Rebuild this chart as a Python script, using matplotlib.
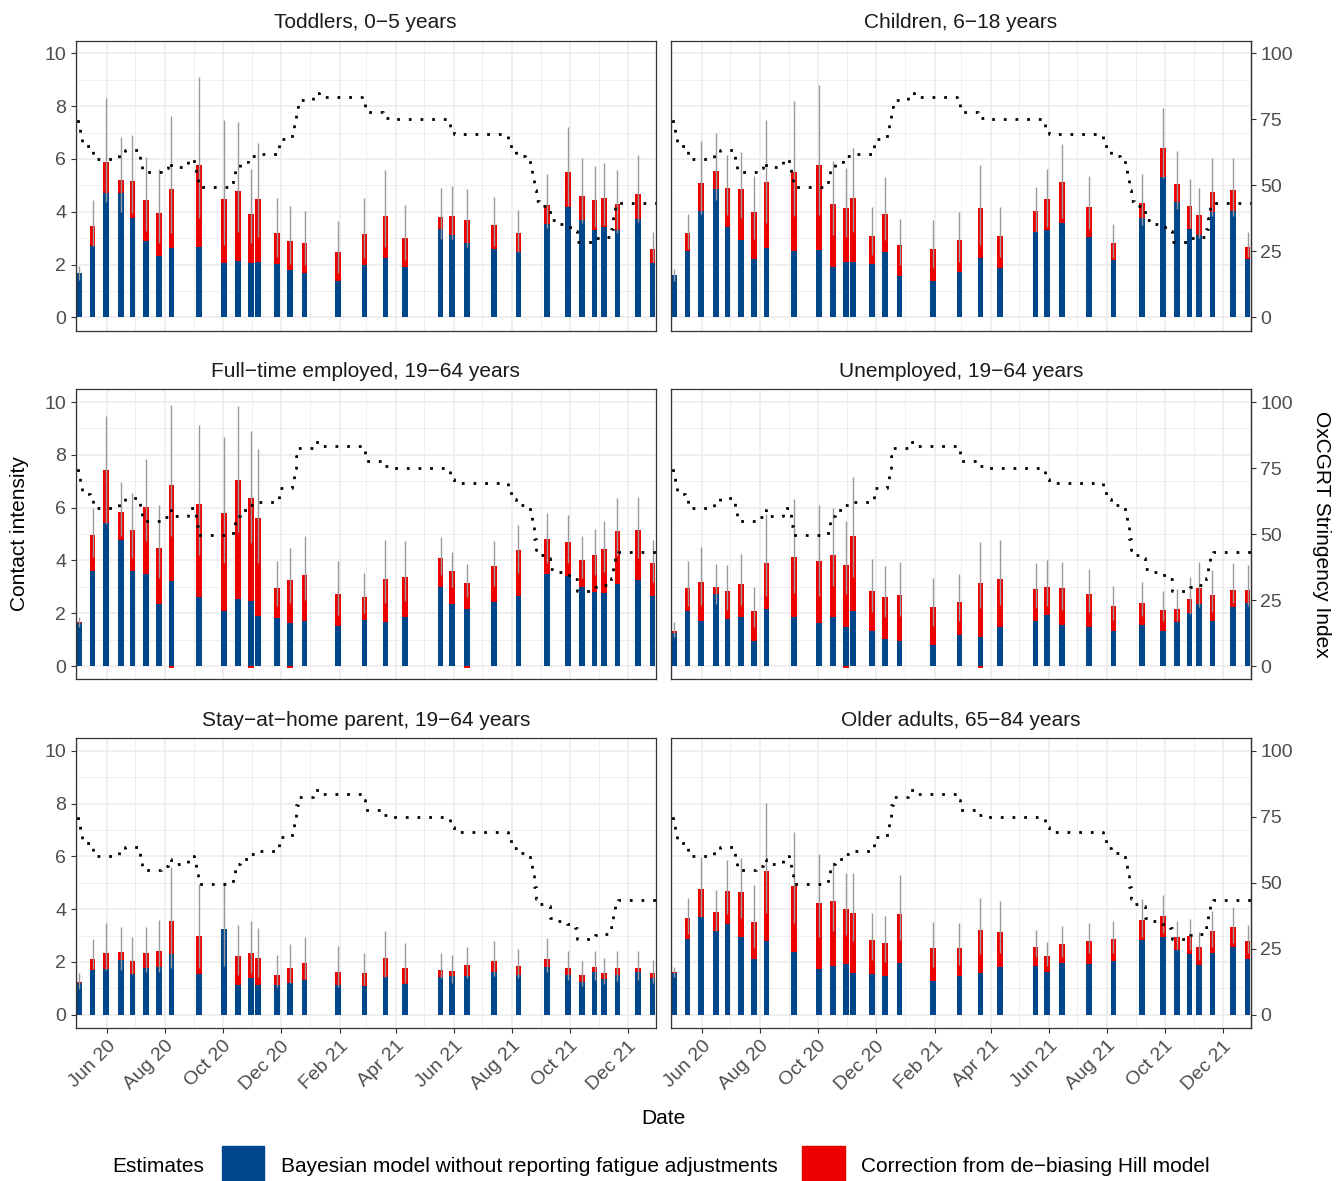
import matplotlib
matplotlib.use("Agg")
import matplotlib.pyplot as plt
import matplotlib.dates as mdates
from matplotlib.patches import Rectangle
import numpy as np

plt.rcParams['font.family'] = ['Liberation Sans', 'DejaVu Sans']

# survey waves (same for all groups)
waves = ["2020-05-03", "2020-05-17", "2020-05-31", "2020-06-16", "2020-06-28", "2020-07-12",
         "2020-07-26", "2020-08-08", "2020-09-06", "2020-10-02", "2020-10-17", "2020-10-31",
         "2020-11-07", "2020-11-27", "2020-12-11", "2020-12-26", "2021-01-30", "2021-02-27",
         "2021-03-21", "2021-04-11", "2021-05-18", "2021-05-30", "2021-06-15", "2021-07-13",
         "2021-08-08", "2021-09-07", "2021-09-29", "2021-10-14", "2021-10-27", "2021-11-06",
         "2021-11-20", "2021-12-12", "2021-12-27"]

groups = ["Toddlers, 0\u22125 years", "Children, 6\u221218 years",
          "Full\u2212time employed, 19\u221264 years", "Unemployed, 19\u221264 years",
          "Stay\u2212at\u2212home parent, 19\u221264 years", "Older adults, 65\u221284 years"]

# bayesian estimate (blue), hill-corrected total (top of red), interval
toddlers_base = [1.67, 2.70, 4.70, 4.70, 3.78, 2.90, 2.34, 2.64, 2.66, 2.06, 2.12, 2.06, 2.11, 2.02, 1.81, 1.68, 1.39,
                 1.98, 2.25, 1.89, 3.33, 3.12, 2.80, 2.59, 2.49, 3.54, 4.17, 3.69, 3.31, 3.41, 3.32, 3.71, 2.05]
toddlers_total = [1.69, 3.46, 5.88, 5.20, 5.16, 4.44, 3.95, 4.86, 5.77, 4.48, 4.79, 3.91, 4.48, 3.19, 2.89, 2.82, 2.47,
                  3.16, 3.84, 3.00, 3.79, 3.84, 3.69, 3.50, 3.19, 4.26, 5.51, 4.60, 4.44, 4.51, 4.29, 4.67, 2.59]
toddlers_lo = [1.41, 2.70, 4.38, 4.00, 3.94, 3.28, 2.80, 3.18, 3.78, 2.74, 3.24, 2.80, 3.06, 2.30, 2.01, 1.98, 1.67,
               2.26, 2.65, 2.17, 2.97, 2.97, 2.65, 2.71, 2.49, 3.37, 4.22, 3.59, 3.43, 3.50, 3.21, 3.62, 2.08]
toddlers_hi = [1.96, 4.44, 8.30, 6.82, 6.90, 6.06, 5.62, 7.63, 9.12, 7.47, 7.39, 5.62, 6.59, 4.53, 4.22, 4.02, 3.66,
               4.52, 5.58, 4.26, 4.89, 4.97, 4.85, 4.55, 4.07, 5.42, 7.21, 6.02, 5.72, 5.86, 5.58, 6.14, 3.24]

children_base = [1.59, 2.53, 4.03, 4.86, 3.42, 2.94, 2.21, 2.64, 2.51, 2.56, 1.91, 2.11, 2.11, 2.03, 2.49, 1.58, 1.38,
                 1.73, 2.26, 1.88, 3.24, 3.32, 3.57, 3.04, 2.18, 3.78, 5.32, 4.37, 3.35, 3.11, 3.99, 4.02, 2.20]
children_total = [1.62, 3.21, 5.09, 5.54, 4.90, 4.86, 3.99, 5.13, 5.51, 5.77, 4.29, 4.14, 4.52, 3.08, 3.91, 2.74, 2.59,
                  2.93, 4.14, 3.08, 4.03, 4.48, 5.13, 4.18, 2.82, 4.33, 6.41, 5.05, 4.22, 3.88, 4.75, 4.82, 2.66]
children_lo = [1.39, 2.58, 3.91, 4.43, 3.88, 3.78, 2.97, 3.59, 3.84, 3.88, 3.12, 3.06, 3.24, 2.36, 2.93, 1.98, 1.86,
               2.08, 2.74, 2.30, 3.24, 3.43, 3.75, 3.33, 2.23, 3.50, 5.29, 4.09, 3.37, 2.99, 3.85, 3.84, 2.30]
children_hi = [1.82, 3.91, 6.69, 7.00, 6.15, 6.26, 5.37, 7.47, 8.19, 8.80, 5.92, 5.67, 6.41, 4.17, 5.30, 3.71, 3.69,
               3.98, 5.76, 4.19, 4.95, 5.61, 6.57, 5.37, 3.54, 5.43, 7.92, 6.31, 5.23, 4.89, 6.02, 6.02, 3.24]

fulltime_base = [1.63, 3.60, 5.40, 4.79, 3.60, 3.50, 2.36, 3.22, 2.62, 2.09, 2.52, 2.47, 1.90, 1.83, 1.63, 1.71, 1.53,
                 1.76, 1.68, 1.86, 3.00, 2.36, 2.16, 2.44, 2.67, 3.50, 3.41, 3.00, 2.82, 2.77, 3.12, 3.27, 2.67]
fulltime_total = [1.65, 4.97, 7.43, 5.84, 5.16, 6.03, 4.48, 6.86, 6.14, 5.80, 7.05, 6.37, 5.61, 2.96, 3.26, 3.45, 2.73,
                  2.62, 3.30, 3.38, 4.10, 3.60, 3.15, 3.79, 4.40, 4.82, 4.70, 4.02, 4.22, 4.44, 5.12, 5.16, 3.91]
fulltime_lo = [1.47, 4.12, 5.39, 4.94, 4.11, 4.72, 3.32, 4.91, 4.22, 3.89, 5.07, 4.65, 3.89, 2.28, 2.40, 2.50, 1.93,
               2.02, 2.40, 2.48, 3.46, 3.01, 2.63, 3.05, 3.51, 3.89, 3.89, 3.32, 3.43, 3.58, 4.15, 4.08, 3.19]
fulltime_hi = [1.85, 5.98, 9.48, 6.97, 6.55, 7.84, 6.11, 9.90, 9.13, 8.67, 9.86, 8.91, 8.24, 3.97, 4.46, 4.93, 3.96,
               3.53, 4.77, 4.74, 4.88, 4.31, 3.87, 4.74, 5.35, 5.79, 5.71, 4.91, 5.18, 5.50, 6.38, 6.42, 4.78]

unemployed_base = [1.26, 2.10, 1.69, 2.74, 1.79, 1.84, 0.93, 2.17, 1.87, 1.62, 1.87, 1.49, 2.10, 1.31, 1.04, 0.96, 0.81,
                   1.16, 1.09, 1.46, 1.69, 1.92, 1.57, 1.46, 1.31, 1.57, 1.34, 1.67, 2.02, 2.36, 1.69, 2.22, 2.37]
unemployed_total = [1.34, 2.97, 3.19, 3.00, 2.85, 3.12, 2.10, 3.91, 4.14, 3.99, 4.22, 3.84, 4.94, 2.85, 2.63, 2.70, 2.25,
                    2.44, 3.16, 3.31, 2.93, 3.00, 2.97, 2.74, 2.29, 2.40, 2.13, 2.17, 2.55, 2.97, 2.70, 2.89, 2.89]
unemployed_lo = [1.11, 2.26, 2.32, 2.36, 2.13, 2.32, 1.48, 2.64, 2.77, 2.64, 3.02, 2.74, 3.37, 2.03, 1.84, 1.88, 1.50,
                 1.69, 2.20, 2.32, 2.20, 2.29, 2.13, 2.03, 1.73, 1.88, 1.69, 1.69, 1.98, 2.23, 2.03, 2.39, 2.26]
unemployed_hi = [1.67, 3.98, 4.51, 3.88, 3.84, 4.23, 2.99, 5.77, 6.34, 6.11, 5.98, 5.49, 7.16, 4.05, 3.80, 3.94, 3.35,
                 3.50, 4.70, 4.77, 3.89, 4.03, 3.94, 3.67, 3.02, 3.19, 2.84, 2.92, 3.37, 3.95, 3.64, 3.90, 3.84]

parent_base = [1.20, 1.70, 1.73, 2.07, 1.55, 1.78, 1.81, 2.31, 1.55, 3.24, 1.12, 1.40, 1.12, 1.12, 1.20, 1.33, 1.12,
               1.10, 1.43, 1.17, 1.43, 1.48, 1.48, 1.63, 1.50, 1.81, 1.50, 1.25, 1.63, 1.35, 1.50, 1.63, 1.40]
parent_total = [1.24, 2.11, 2.34, 2.37, 2.03, 2.34, 2.41, 3.55, 2.98, 3.25, 2.22, 2.34, 2.15, 1.50, 1.77, 1.96, 1.62,
                1.58, 2.15, 1.77, 1.69, 1.67, 1.88, 2.03, 1.84, 2.11, 1.77, 1.50, 1.81, 1.58, 1.77, 1.77, 1.58]
parent_lo = [0.98, 1.72, 1.69, 1.69, 1.53, 1.63, 1.63, 1.76, 1.76, 1.84, 1.49, 1.57, 1.41, 1.04, 1.22, 1.34, 1.04,
             1.12, 1.41, 1.19, 1.38, 1.22, 1.38, 1.48, 1.38, 1.63, 1.31, 1.09, 1.31, 1.15, 1.29, 1.31, 1.19]
parent_hi = [1.57, 2.88, 3.46, 3.33, 2.93, 3.33, 3.59, 5.61, 4.97, 5.04, 3.38, 3.55, 3.27, 2.26, 2.68, 2.94, 2.59,
             2.32, 3.19, 2.71, 2.35, 2.26, 2.58, 2.79, 2.49, 2.89, 2.41, 2.05, 2.42, 2.13, 2.42, 2.42, 2.07]

older_base = [1.59, 2.87, 3.70, 3.17, 3.45, 2.94, 2.11, 2.79, 2.39, 1.73, 1.86, 1.93, 1.58, 1.55, 1.48, 1.96, 1.28,
              1.48, 1.58, 1.81, 1.86, 1.63, 1.96, 1.93, 2.03, 2.84, 2.94, 2.46, 2.31, 1.88, 2.34, 2.56, 2.11]
older_total = [1.62, 3.66, 4.76, 3.89, 4.68, 4.65, 3.51, 5.44, 4.87, 4.23, 4.31, 4.00, 3.85, 2.83, 2.71, 3.81, 2.53,
               2.53, 3.21, 3.13, 2.56, 2.22, 2.68, 2.79, 2.87, 3.59, 3.74, 2.94, 2.98, 2.56, 3.17, 3.32, 2.79]
older_lo = [1.41, 3.06, 3.71, 3.18, 3.81, 3.65, 2.51, 3.86, 3.48, 2.95, 3.18, 3.02, 2.80, 2.07, 2.01, 2.83, 1.82,
            1.88, 2.30, 2.35, 2.20, 1.84, 2.20, 2.32, 2.32, 2.95, 3.08, 2.45, 2.45, 2.07, 2.58, 2.70, 2.32]
older_hi = [1.82, 4.42, 5.98, 4.72, 5.86, 5.95, 4.91, 8.03, 6.92, 6.07, 5.80, 5.35, 5.35, 3.86, 3.74, 5.29, 3.52,
            3.46, 4.42, 4.29, 3.21, 2.77, 3.36, 3.48, 3.54, 4.38, 4.53, 3.56, 3.61, 3.12, 3.94, 4.09, 3.40]

# waves where the correction dips just below zero
negative_waves = {2: [7, 11, 14, 22], 3: [11, 18]}

# OxCGRT stringency index, value from each date on
stringency_dates = ["2020-04-25", "2020-05-02", "2020-05-04", "2020-05-06", "2020-05-14", "2020-05-18",
                    "2020-06-14", "2020-06-20", "2020-07-04", "2020-07-06", "2020-07-08", "2020-07-28",
                    "2020-08-04", "2020-08-07", "2020-08-25", "2020-09-01", "2020-09-03", "2020-09-05",
                    "2020-10-12", "2020-10-14", "2020-10-19", "2020-10-28", "2020-11-06", "2020-11-27",
                    "2020-11-29", "2020-12-13", "2020-12-15", "2020-12-17", "2020-12-19", "2021-01-04",
                    "2021-01-10", "2021-02-24", "2021-02-28", "2021-03-18", "2021-03-25", "2021-05-28",
                    "2021-06-01", "2021-07-28", "2021-07-31", "2021-08-05", "2021-08-15", "2021-08-20",
                    "2021-08-22", "2021-08-24", "2021-08-26", "2021-08-30", "2021-09-08", "2021-09-10",
                    "2021-09-18", "2021-09-28", "2021-10-06", "2021-10-09", "2021-10-27", "2021-11-05",
                    "2021-11-13", "2021-11-15", "2021-11-17", "2021-11-21", "2022-01-05"]
stringency = [77, 73, 69, 65, 63, 60, 62, 63.5, 62.5, 58, 55, 56.5, 59, 57, 60, 57.5, 53, 49.5,
              52.7, 57, 59, 61, 62, 63, 67.5, 71, 75, 79.5, 82.5, 85, 83.5, 81.5, 77.7, 75.7, 75, 71,
              69.4, 67.4, 63.3, 61.1, 60.4, 57, 52.6, 48.3, 44, 42, 41, 36.7, 35.5, 34.3, 32.8, 28.5,
              30.1, 30.6, 33.4, 37.7, 42, 43.3, 43.3]

panels = [
    (toddlers_base, toddlers_total, toddlers_lo, toddlers_hi),
    (children_base, children_total, children_lo, children_hi),
    (fulltime_base, fulltime_total, fulltime_lo, fulltime_hi),
    (unemployed_base, unemployed_total, unemployed_lo, unemployed_hi),
    (parent_base, parent_total, parent_lo, parent_hi),
    (older_base, older_total, older_lo, older_hi),
]

BLUE = '#00468B'
RED = '#ED0000'
GRID = '#EBEBEB'
DARK = '#333333'
TICKTXT = '#4D4D4D'

W, H = 1342, 1181
fig = plt.figure(figsize=(W / 100, H / 100), dpi=100)

x = mdates.date2num(np.array(waves, dtype='datetime64[D]'))
sx = mdates.date2num(np.array(stringency_dates, dtype='datetime64[D]'))
sy = np.array(stringency) / 10
x0 = mdates.date2num(np.datetime64('2020-05-01')) - 1.4
x1 = x0 + 609.5

col_left = [76, 671]
row_top = [40.7, 389.4, 738.1]
pw, ph = 579.5, 289.8

for i, (base, total, lo, hi) in enumerate(panels):
    r, c = divmod(i, 2)
    ax = fig.add_axes([col_left[c] / W, 1 - (row_top[r] + ph) / H, pw / W, ph / H])
    base = np.array(base)
    total = np.array(total)

    ax.bar(x, base, width=6, color=BLUE, zorder=2)
    ax.bar(x, total - base, bottom=base, width=6, color=RED, zorder=2)
    if i in negative_waves:
        idx = negative_waves[i]
        ax.bar(x[idx], -0.06, width=6, color=RED, zorder=2)
    ax.vlines(x, lo, hi, color='#9A9A9A', lw=1.0, zorder=3)
    ax.step(sx, sy, where='post', color='black', lw=2.0, linestyle=(0, (1, 3.2)), zorder=4)

    ax.set_xlim(x0, x1)
    ax.set_ylim(-0.5, 10.48)
    ax.set_axisbelow(True)

    ax.xaxis.set_major_locator(mdates.MonthLocator(bymonth=[2, 4, 6, 8, 10, 12]))
    ax.xaxis.set_minor_locator(mdates.MonthLocator())
    ax.xaxis.set_major_formatter(mdates.DateFormatter('%b %y'))
    ax.set_yticks(np.arange(0, 11, 2))
    ax.set_yticks(np.arange(1, 10, 2), minor=True)

    ax.grid(which='major', color=GRID, lw=1.1)
    ax.grid(which='minor', color=GRID, lw=0.55)
    for sp in ax.spines.values():
        sp.set_color(DARK)
        sp.set_linewidth(0.9)

    ax.tick_params(which='minor', length=0)
    ax.tick_params(which='major', color=DARK, width=0.8, length=3.5,
                   labelsize=14, labelcolor=TICKTXT)
    if r < 2:
        ax.tick_params(axis='x', which='major', length=0, labelbottom=False)
    else:
        for lab in ax.get_xticklabels():
            lab.set_rotation(45)
            lab.set_ha('right')
            lab.set_rotation_mode('anchor')
    if c == 1:
        ax.tick_params(axis='y', which='major', length=0, labelleft=False)
        sec = ax.secondary_yaxis('right', functions=(lambda v: v * 10, lambda s: s / 10))
        sec.set_yticks([0, 25, 50, 75, 100])
        sec.tick_params(color=DARK, width=0.8, length=3.5, labelsize=14, labelcolor=TICKTXT)
        sec.spines['right'].set_color(DARK)
        sec.spines['right'].set_linewidth(0.9)

    ax.set_title(groups[i], fontsize=15, color='#1A1A1A', pad=9)

fig.text(20 / W, 1 - 534 / H, 'Contact intensity', rotation=90, fontsize=15,
         ha='center', va='center')
fig.text(1321 / W, 1 - 534 / H, 'OxCGRT Stringency Index', rotation=270, fontsize=15,
         ha='center', va='center')
fig.text(663 / W, 1 - 1118 / H, 'Date', fontsize=15, ha='center', va='center')

# legend along the bottom
ly = 1 - 1167 / H
fig.text(112 / W, ly, 'Estimates', fontsize=15, ha='left', va='center')
fig.add_artist(Rectangle((222 / W, 1 - 1181 / H), 42 / W, 35 / H, color=BLUE,
                         transform=fig.transFigure))
fig.text(281 / W, ly, 'Bayesian model without reporting fatigue adjustments', fontsize=15,
         ha='left', va='center')
fig.add_artist(Rectangle((802 / W, 1 - 1181 / H), 43 / W, 35 / H, color=RED,
                         transform=fig.transFigure))
fig.text(861 / W, ly, 'Correction from de\u2212biasing Hill model', fontsize=15,
         ha='left', va='center')

fig.savefig('out.png', dpi=100)
